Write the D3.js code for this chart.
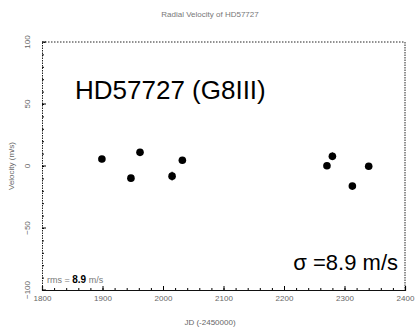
<!DOCTYPE html>
<html>
<head>
<meta charset="utf-8">
<script src="https://cdn.jsdelivr.net/npm/d3@7"></script>
<style>
  body { margin: 0; background: #fff; }
  svg { display: block; }
</style>
</head>
<body>
<div id="chart"></div>
<script>
// radial velocity measurements of HD57727 (JD - 2450000, m/s)
const jd = [1899, 1947, 1962, 2015, 2032, 2271, 2280, 2313, 2340];
const velocity = [5.6, -9.8, 11.0, -8.2, 4.6, 0.2, 7.8, -16.2, -0.2];
const errors = [2.5, 2.5, 2.5, 3.5, 2.5, 2.5, 3.0, 2.5, 2.5];
const xTicks = [1800, 1900, 2000, 2100, 2200, 2300, 2400];
const yTicks = [-100, -50, 0, 50, 100];

const width = 419, height = 334;
const margin = { top: 42, right: 14, bottom: 44, left: 42 };

const svg = d3.select('#chart')
  .append('svg')
  .attr('width', width)
  .attr('height', height)
  .style('font-family', 'Liberation Sans, Arial, sans-serif');

const x = d3.scaleLinear().domain([1800, 2400]).range([margin.left, width - margin.right]);
const y = d3.scaleLinear().domain([-100, 100]).range([height - margin.bottom, margin.top]);

// frame (top / right / left look dotted in the scan)
const frame = svg.append('g').attr('stroke', '#222').attr('fill', 'none');
frame.append('line').attr('x1', x(1800)).attr('x2', x(2400)).attr('y1', y(100)).attr('y2', y(100))
  .attr('stroke-dasharray', '1.5,1.5');
frame.append('line').attr('x1', x(2400)).attr('x2', x(2400)).attr('y1', y(100)).attr('y2', y(-100))
  .attr('stroke-dasharray', '1.5,1');

// axes
const xAxis = d3.axisBottom(x).tickValues(xTicks).tickSize(-4).tickFormat(d3.format('d'));
const gx = svg.append('g').attr('transform', `translate(0,${y(-100)})`).call(xAxis);
gx.select('.domain').attr('stroke', '#111').attr('stroke-width', 1.2);
gx.selectAll('text').attr('fill', '#666').style('font-size', '8px').attr('y', 5).attr('dy', '0.71em');

const xMinor = d3.axisBottom(x).tickValues(d3.range(1820, 2400, 20)).tickSize(-2).tickFormat('');
svg.append('g').attr('transform', `translate(0,${y(-100)})`).call(xMinor)
  .call(g => g.select('.domain').remove());

const yAxis = d3.axisLeft(y).tickValues(yTicks).tickSize(-4);
const gy = svg.append('g').attr('transform', `translate(${x(1800)},0)`).call(yAxis);
gy.select('.domain').attr('stroke', '#222').attr('stroke-dasharray', '1.5,1');
gy.selectAll('text')
  .attr('fill', '#666')
  .style('font-size', '8px')
  .attr('x', -12)
  .attr('dy', 0)
  .attr('text-anchor', 'middle')
  .attr('transform', d => `rotate(-90,-12,${y(d)})`)
  .attr('y', d => y(d));
gy.selectAll('.tick').attr('transform', null);
gy.selectAll('.tick line').attr('y1', d => y(d)).attr('y2', d => y(d));

const yMinor = d3.axisLeft(y).tickValues(d3.range(-90, 100, 10)).tickSize(-2).tickFormat('');
svg.append('g').attr('transform', `translate(${x(1800)},0)`).call(yMinor)
  .call(g => g.select('.domain').remove());

// title and axis labels
svg.append('text')
  .attr('x', 210).attr('y', 17)
  .attr('text-anchor', 'middle')
  .attr('fill', '#777')
  .style('font-size', '8px')
  .text('Radial Velocity of HD57727');

svg.append('text')
  .attr('x', 210).attr('y', 325)
  .attr('text-anchor', 'middle')
  .attr('fill', '#666')
  .style('font-size', '8px')
  .text('JD (-2450000)');

svg.append('text')
  .attr('transform', `translate(14,${y(0)}) rotate(-90)`)
  .attr('text-anchor', 'middle')
  .attr('fill', '#666')
  .style('font-size', '8px')
  .text('Velocity (m/s)');

// data: error bars + points
const data = jd.map((d, i) => ({ jd: d, v: velocity[i], e: errors[i] }));

svg.append('g').selectAll('line')
  .data(data)
  .enter()
  .append('line')
  .attr('x1', d => x(d.jd)).attr('x2', d => x(d.jd))
  .attr('y1', d => y(d.v - d.e)).attr('y2', d => y(d.v + d.e))
  .attr('stroke', '#000').attr('stroke-width', 1.2);

svg.append('g').selectAll('circle')
  .data(data)
  .enter()
  .append('circle')
  .attr('cx', d => x(d.jd))
  .attr('cy', d => y(d.v))
  .attr('r', 3.8)
  .attr('fill', '#000');

// annotations
svg.append('text')
  .attr('x', 75).attr('y', 99)
  .attr('fill', '#000')
  .style('font-size', '26px')
  .text('HD57727 (G8III)');

svg.append('text')
  .attr('x', 398).attr('y', 270)
  .attr('text-anchor', 'end')
  .attr('fill', '#000')
  .style('font-size', '22px')
  .text('σ =8.9 m/s');

const legend = svg.append('text')
  .attr('x', 47).attr('y', 283)
  .style('font-size', '9px')
  .attr('fill', '#777');
legend.append('tspan').text('rms = ');
legend.append('tspan').attr('fill', '#000').style('font-weight', 'bold').style('font-size', '10px').text('8.9');
legend.append('tspan').text(' m/s');
</script>
</body>
</html>
